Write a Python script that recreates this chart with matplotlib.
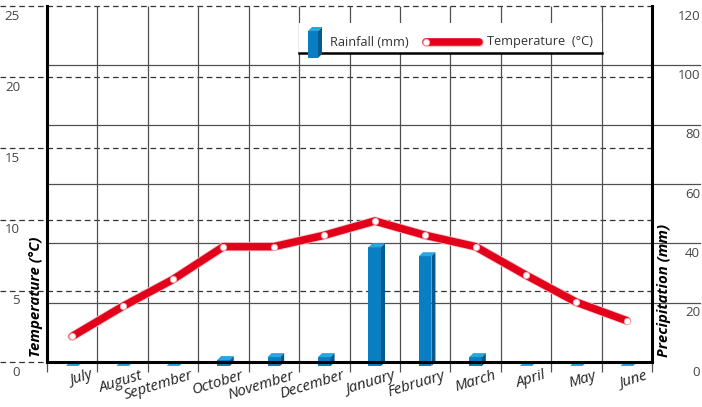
import matplotlib
matplotlib.use('Agg')
import matplotlib.pyplot as plt
import numpy as np
from matplotlib.patches import Polygon, Rectangle
from matplotlib.lines import Line2D
import matplotlib.patheffects as pe
from matplotlib.transforms import blended_transform_factory, ScaledTranslation

plt.rcParams['font.family'] = ['Open Sans', 'DejaVu Sans']

# ---------------- data ----------------
months = ['July', 'August', 'September', 'October', 'November', 'December',
          'January', 'February', 'March', 'April', 'May', 'June']
temperature = [1.8, 3.9, 5.8, 8.1, 8.1, 8.9, 9.9, 8.9, 8.1, 6.1, 4.2, 2.9]
rainfall = [0, 0, 0, 2, 3, 3, 40, 37, 3, 0, 0, 0]
temp_ticks = [0, 5, 10, 15, 20, 25]
rain_ticks = [0, 20, 40, 60, 80, 100, 120]

# ---------------- layout ----------------
W, H = 702, 407
L, R, B, T = 47, 652, 362, 6
AW, AH = R - L, B - T
fig = plt.figure(figsize=(W / 100, H / 100), dpi=100)
ax1 = fig.add_axes([L / W, (H - B) / H, AW / W, AH / H])
ax2 = ax1.twinx()
ax1.set_zorder(ax2.get_zorder() + 1)
ax1.patch.set_visible(False)

n = len(months)
ax1.set_xlim(0, n)
ax1.set_ylim(temp_ticks[0], temp_ticks[-1])
ax2.set_ylim(rain_ticks[0], rain_ticks[-1])

grid_col = '#505050'
# dashed grid (temperature scale), extends left out of the axes
tr_dash = blended_transform_factory(ax2.transAxes, ax1.transData)
for t in temp_ticks:
    ax2.plot([-L / AW, 1], [t, t], transform=tr_dash, ls=(0, (4.5, 3)),
             color='#333333', lw=0.9, clip_on=False, zorder=0.5)
# solid grid (rain scale), extends right out of the axes
tr_solid = blended_transform_factory(ax2.transAxes, ax2.transData)
for r in rain_ticks[1:-1]:
    ax2.plot([0, (700 - L) / AW], [r, r], transform=tr_solid, ls='-',
             color=grid_col, lw=0.9, clip_on=False, zorder=0.5)
# vertical grid at month boundaries
tr_v = blended_transform_factory(ax2.transData, ax2.transAxes)
ax2.vlines(np.arange(n + 1), 0, 1, transform=tr_v, color=grid_col, lw=0.9, zorder=0.5)

# ---------------- 3D bars ----------------
xc = np.arange(n) + 0.5
bw = 0.25
dx = 4 * n / AW                     # depth offset in x data units (4 px)
dy = 4 * rain_ticks[-1] / AH        # depth offset in y data units (4 px)
c_front, c_side, c_top = '#0a7ec3', '#07598f', '#28a6df'
bars = ax2.bar(xc, rainfall, width=bw, bottom=-dy, color=c_front,
               linewidth=0, zorder=2, clip_on=False)
for rect in bars:
    x0 = rect.get_x(); x1 = x0 + rect.get_width()
    yb = rect.get_y(); yt = yb + rect.get_height()
    ax2.add_patch(Polygon([(x0, yt), (x1, yt), (x1 + dx, yt + dy), (x0 + dx, yt + dy)],
                          closed=True, facecolor=c_top, lw=0, zorder=2.1, clip_on=False))
    ax2.add_patch(Polygon([(x1, yb), (x1, yt), (x1 + dx, yt + dy), (x1 + dx, yb + dy)],
                          closed=True, facecolor=c_side, lw=0, zorder=2.1, clip_on=False))

# ---------------- temperature line ----------------
red = '#e2001a'
line_fx = [pe.Stroke(linewidth=6.6, foreground='#f4c0c4'), pe.Normal()]
ax1.plot(xc, temperature, color=red, lw=5.4, solid_capstyle='round',
         solid_joinstyle='round', zorder=3, path_effects=line_fx)
ax1.plot(xc, temperature, ls='none', marker='o', ms=4.6, mfc='white',
         mec='#f2a8ae', mew=0.6, zorder=4)

# ---------------- spines & ticks ----------------
for s in ['left', 'right', 'bottom']:
    ax1.spines[s].set_linewidth(2.2)
    ax1.spines[s].set_color('black')
ax1.spines['top'].set_visible(False)
for s in ax2.spines.values():
    s.set_visible(False)

num_col = '#454545'
down = ScaledTranslation(0, -3.5 / 100, fig.dpi_scale_trans)
ax1.set_yticks(temp_ticks)
ax1.tick_params(axis='y', length=0, pad=19.4, labelsize=9.5, labelcolor=num_col)
for tk in ax1.yaxis.get_major_ticks():
    tk.label1.set_va('top')
    tk.label1.set_transform(tk.label1.get_transform() + down)
ax2.set_yticks(rain_ticks)
ax2.tick_params(axis='y', length=0, pad=34.6, labelsize=9.5, labelcolor=num_col)
for tk in ax2.yaxis.get_major_ticks():
    tk.label2.set_va('top'); tk.label2.set_ha('right')
    tk.label2.set_transform(tk.label2.get_transform() + down)

ax1.set_xticks(np.arange(n + 1))
ax1.set_xticklabels([])
ax1.tick_params(axis='x', which='major', direction='out', length=7.2,
                width=0.9, color=grid_col)
ax1.set_xticks(np.arange(n) + 0.85, labels=months, minor=True)
ax1.tick_params(axis='x', which='minor', length=0, pad=4.5, labelsize=10.8,
                labelcolor='#222222')
for lb in ax1.get_xticklabels(minor=True):
    lb.set_rotation(17); lb.set_ha('right'); lb.set_va('top')
    lb.set_rotation_mode('anchor'); lb.set_fontstyle('italic')

# axis titles
ax1.text((36 - L) / AW, (B - 357) / AH, 'Temperature (°C)', transform=ax1.transAxes,
         rotation=90, rotation_mode='anchor', ha='left', va='center',
         fontsize=10.8, fontweight='bold', fontstyle='italic', color='black')
ax1.text((664 - L) / AW, (B - 357) / AH, 'Precipitation (mm)', transform=ax1.transAxes,
         rotation=90, rotation_mode='anchor', ha='left', va='center',
         fontsize=10.8, fontweight='bold', fontstyle='italic', color='black')

# ---------------- legend ----------------
def fx(px):
    return (px - L) / AW

def fy(py):
    return (B - py) / AH

ax1.add_patch(Rectangle((fx(299), fy(53)), fx(602) - fx(299), fy(23) - fy(53),
                        transform=ax1.transAxes, facecolor='white', edgecolor='none',
                        zorder=5, clip_on=False))
ax1.add_line(Line2D([fx(299), fx(602)], [fy(53), fy(53)], transform=ax1.transAxes,
                    color='black', lw=1.8, zorder=5.1, clip_on=False))
# bar icon
bx0, bx1, by0, by1 = 308, 318, 58, 31
ax1.add_patch(Polygon([(fx(bx0), fy(by0)), (fx(bx1), fy(by0)), (fx(bx1), fy(by1)), (fx(bx0), fy(by1))],
                      transform=ax1.transAxes, facecolor=c_front, lw=0, zorder=5.2, clip_on=False))
ax1.add_patch(Polygon([(fx(bx1), fy(by0)), (fx(bx1), fy(by1)), (fx(bx1 + 4), fy(by1 - 4)), (fx(bx1 + 4), fy(by0 - 4))],
                      transform=ax1.transAxes, facecolor=c_side, lw=0, zorder=5.2, clip_on=False))
ax1.add_patch(Polygon([(fx(bx0), fy(by1)), (fx(bx1), fy(by1)), (fx(bx1 + 4), fy(by1 - 4)), (fx(bx0 + 4), fy(by1 - 4))],
                      transform=ax1.transAxes, facecolor=c_top, lw=0, zorder=5.2, clip_on=False))
ax1.text(fx(330), fy(42), 'Rainfall (mm)', transform=ax1.transAxes, ha='left', va='center',
         fontsize=9.2, color='#333333', zorder=5.3)
ax1.add_line(Line2D([fx(426), fx(479)], [fy(42), fy(42)], transform=ax1.transAxes,
                    color=red, lw=5.4, solid_capstyle='round', zorder=5.2, clip_on=False,
                    path_effects=line_fx))
ax1.add_line(Line2D([fx(426)], [fy(42)], transform=ax1.transAxes, ls='none', marker='o',
                    ms=4.6, mfc='white', mec='#f2a8ae', mew=0.6, zorder=5.3, clip_on=False))
ax1.text(fx(487), fy(42), 'Temperature  (°C)', transform=ax1.transAxes, ha='left', va='center',
         fontsize=9.2, color='#333333', zorder=5.3)

fig.savefig('out.png', dpi=100, facecolor='white')
